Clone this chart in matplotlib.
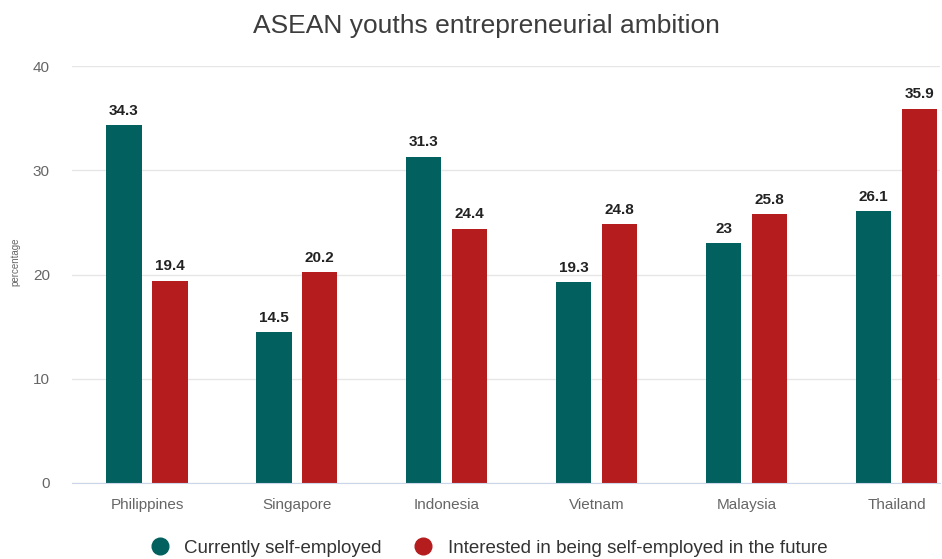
import numpy as np
import matplotlib.pyplot as plt
from matplotlib.lines import Line2D

plt.rcParams['font.family'] = ['Liberation Sans', 'DejaVu Sans']

countries = ['Philippines', 'Singapore', 'Indonesia', 'Vietnam', 'Malaysia', 'Thailand']
current = [34.3, 14.5, 31.3, 19.3, 23, 26.1]
future = [19.4, 20.2, 24.4, 24.8, 25.8, 35.9]
series_names = ['Currently self-employed', 'Interested in being self-employed in the future']

teal = '#02605f'
red = '#b41c1e'

fig = plt.figure(figsize=(9.42, 5.59), dpi=100)
ax = fig.add_axes([72 / 942, 1 - 483 / 559, 868 / 942, (483 - 66) / 559])

x = np.arange(len(countries))
w = 0.235
off = 0.153
b1 = ax.bar(x - off, current, w, color=teal, zorder=3)
b2 = ax.bar(x + off, future, w, color=red, zorder=3)

for bars, vals in ((b1, current), (b2, future)):
    for bar, v in zip(bars, vals):
        ax.text(bar.get_x() + bar.get_width() / 2, v + 0.7, f'{v:g}',
                ha='center', va='bottom', fontsize=11, fontweight='bold', color='#222222')

ax.set_xlim(-0.5, 5.29)
ax.set_ylim(0, 40)
ax.set_yticks([0, 10, 20, 30, 40])
ax.set_xticks(x)
ax.set_xticklabels(countries)
ax.tick_params(axis='both', length=0, labelsize=11, colors='#666666')
ax.tick_params(axis='x', pad=11)
ax.tick_params(axis='y', pad=16)
ax.grid(axis='y', color='#e6e6e6', linewidth=1, zorder=0)
for s in ['top', 'right', 'left']:
    ax.spines[s].set_visible(False)
ax.spines['bottom'].set_color('#ccd6eb')
ax.spines['bottom'].set_zorder(4)

ax.set_ylabel('percentage', fontsize=7, color='#666666')
ax.yaxis.set_label_coords(-52 / 868, (483 - 262) / (483 - 66))

fig.suptitle('ASEAN youths entrepreneurial ambition', x=486 / 942, y=1 - 26 / 559,
             va='center', fontsize=19, color='#3d3d3d')

handles = [Line2D([], [], marker='o', linestyle='', markersize=12, color=c)
           for c in (teal, red)]
fig.legend(handles, series_names, loc='center', bbox_to_anchor=(0.514, 1 - 548 / 559),
           ncol=2, frameon=False, fontsize=13.5, handletextpad=0.3, columnspacing=1.2,
           labelcolor='#333333')

fig.savefig('out.png', dpi=100)
